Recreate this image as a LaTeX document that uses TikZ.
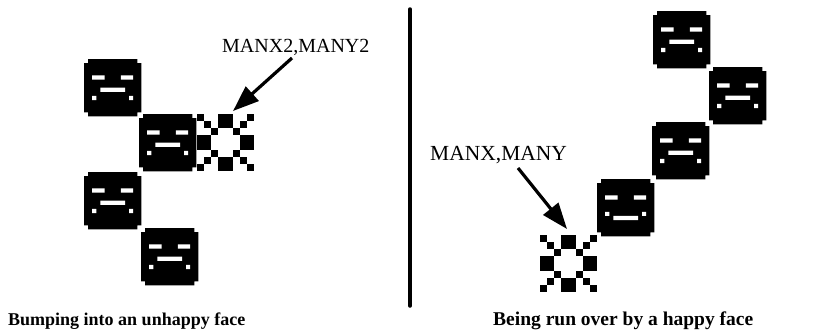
\documentclass[tikz,border=0pt]{standalone}
\usepackage{fontspec}
\setmainfont{Liberation Serif}
\usetikzlibrary{arrows.meta}
\begin{document}
\begin{tikzpicture}[x=1pt,y=-1pt,
  label/.style={font=\fontsize{#1}{24}\selectfont, inner sep=0pt, anchor=base west},
  label/.default=21,
  caption/.style={font=\fontsize{#1}{22}\selectfont\bfseries, inner sep=0pt, anchor=base west},
  caption/.default=19,
  pointer/.style={line width=3.2pt, -{Triangle[length=26pt,width=19pt]}},
  divider/.style={line width=3.5pt, line cap=round},
  % a face sprite: 14 x 14 cells, corner cells cut away
  facebody/.pic={
    \begin{scope}[x=4.1pt,y=-4.1pt]
      \fill[black] (1,0) -- (13,0) -- (13,1) -- (14,1) -- (14,13) -- (13,13)
        -- (13,14) -- (1,14) -- (1,13) -- (0,13) -- (0,1) -- (1,1) -- cycle;
      \fill[white] (2,4) rectangle (5,5) (9,4) rectangle (12,5);
    \end{scope}
  },
  unhappyface/.pic={
    \pic {facebody};
    \begin{scope}[x=4.1pt,y=-4.1pt]
      \fill[white] (4,7) rectangle (10,8) (2,9) rectangle (3,10) (11,9) rectangle (12,10);
    \end{scope}
  },
  happyface/.pic={
    \pic {facebody};
    \begin{scope}[x=4.1pt,y=-4.1pt]
      \fill[white] (2,8) rectangle (3,9) (11,8) rectangle (12,9) (4,9) rectangle (10,10);
    \end{scope}
  },
  % the man sprite: 8 x 8 cells, listed row by row
  mansprite/.pic={
    \begin{scope}[x=7.1pt,y=-7.1pt]
      \foreach \r/\cl in {
        0/{0,3,4,7},
        1/{1,3,4,6},
        2/{2,5},
        3/{0,1,6,7},
        4/{0,1,6,7},
        5/{2,5},
        6/{1,3,4,6},
        7/{0,3,4,7}}{
        \foreach \c in \cl {
          \fill[black] (\c,\r) rectangle ++(1.02,1.02);
        }
      }
    \end{scope}
  }
]
\useasboundingbox (0,0) rectangle (821,332);

% ---- left panel: bumping into an unhappy face
\pic at (84,59)  {unhappyface};
\pic at (139,114) {unhappyface};
\pic at (84,172) {unhappyface};
\pic at (141,228) {unhappyface};
\pic at (197,114) {mansprite};

\node[label=20] (lblL) at (222,52) {MANX2,MANY2};
\coordinate (tailL) at (292,58);
\coordinate (tipL) at (233,111);
\draw[pointer] (tailL) -- (tipL);

\node[caption=18] (capL) at (8,325) {Bumping into an unhappy face};

% ---- divider
\coordinate (divTop) at (410,9);
\coordinate (divBot) at (410,306);
\draw[divider] (divTop) -- (divBot);

% ---- right panel: being run over by a happy face
\pic at (653,11)  {unhappyface};
\pic at (709,67)  {unhappyface};
\pic at (652,122) {unhappyface};
\pic at (597,179) {happyface};
\pic at (540,235) {mansprite};

\node[label=21.5] (lblR) at (430,160) {MANX,MANY};
\coordinate (tailR) at (518,168);
\coordinate (tipR) at (567,229);
\draw[pointer] (tailR) -- (tipR);

\node[caption=19.5] (capR) at (493,325) {Being run over by a happy face};
\end{tikzpicture}
\end{document}
